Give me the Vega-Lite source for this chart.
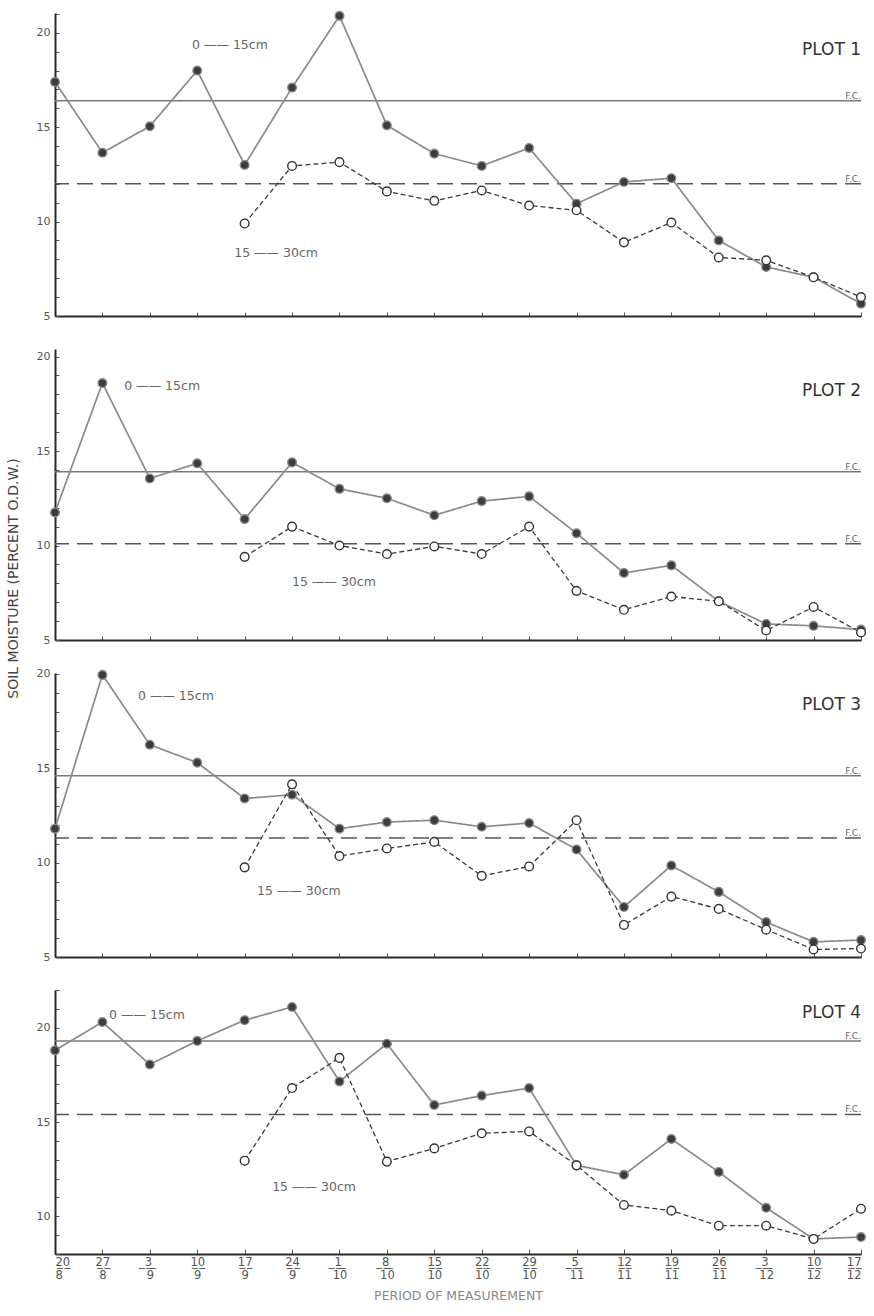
{
 "$schema": "https://vega.github.io/schema/vega-lite/v6.json",
 "background": "white",
 "padding": {"left": 6, "top": 8, "right": 10, "bottom": 4},
 "bounds": "flush",
 "spacing": 33,
 "datasets": {
  "m": [
   {"plot":1,"date":"20/8","i":0,"depth":"0-15cm","v":17.4},
   {"plot":1,"date":"27/8","i":1,"depth":"0-15cm","v":13.65},
   {"plot":1,"date":"3/9","i":2,"depth":"0-15cm","v":15.05},
   {"plot":1,"date":"10/9","i":3,"depth":"0-15cm","v":18.0},
   {"plot":1,"date":"17/9","i":4,"depth":"0-15cm","v":13.0},
   {"plot":1,"date":"24/9","i":5,"depth":"0-15cm","v":17.1},
   {"plot":1,"date":"1/10","i":6,"depth":"0-15cm","v":20.9},
   {"plot":1,"date":"8/10","i":7,"depth":"0-15cm","v":15.1},
   {"plot":1,"date":"15/10","i":8,"depth":"0-15cm","v":13.6},
   {"plot":1,"date":"22/10","i":9,"depth":"0-15cm","v":12.95},
   {"plot":1,"date":"29/10","i":10,"depth":"0-15cm","v":13.9},
   {"plot":1,"date":"5/11","i":11,"depth":"0-15cm","v":10.95},
   {"plot":1,"date":"12/11","i":12,"depth":"0-15cm","v":12.1},
   {"plot":1,"date":"19/11","i":13,"depth":"0-15cm","v":12.3},
   {"plot":1,"date":"26/11","i":14,"depth":"0-15cm","v":9.0},
   {"plot":1,"date":"3/12","i":15,"depth":"0-15cm","v":7.6},
   {"plot":1,"date":"10/12","i":16,"depth":"0-15cm","v":7.05},
   {"plot":1,"date":"17/12","i":17,"depth":"0-15cm","v":5.65},
   {"plot":1,"date":"17/9","i":4,"depth":"15-30cm","v":9.9},
   {"plot":1,"date":"24/9","i":5,"depth":"15-30cm","v":12.95},
   {"plot":1,"date":"1/10","i":6,"depth":"15-30cm","v":13.15},
   {"plot":1,"date":"8/10","i":7,"depth":"15-30cm","v":11.6},
   {"plot":1,"date":"15/10","i":8,"depth":"15-30cm","v":11.1},
   {"plot":1,"date":"22/10","i":9,"depth":"15-30cm","v":11.65},
   {"plot":1,"date":"29/10","i":10,"depth":"15-30cm","v":10.85},
   {"plot":1,"date":"5/11","i":11,"depth":"15-30cm","v":10.6},
   {"plot":1,"date":"12/11","i":12,"depth":"15-30cm","v":8.9},
   {"plot":1,"date":"19/11","i":13,"depth":"15-30cm","v":9.95},
   {"plot":1,"date":"26/11","i":14,"depth":"15-30cm","v":8.1},
   {"plot":1,"date":"3/12","i":15,"depth":"15-30cm","v":7.95},
   {"plot":1,"date":"10/12","i":16,"depth":"15-30cm","v":7.05},
   {"plot":1,"date":"17/12","i":17,"depth":"15-30cm","v":6.0},

   {"plot":2,"date":"20/8","i":0,"depth":"0-15cm","v":11.75},
   {"plot":2,"date":"27/8","i":1,"depth":"0-15cm","v":18.6},
   {"plot":2,"date":"3/9","i":2,"depth":"0-15cm","v":13.55},
   {"plot":2,"date":"10/9","i":3,"depth":"0-15cm","v":14.35},
   {"plot":2,"date":"17/9","i":4,"depth":"0-15cm","v":11.4},
   {"plot":2,"date":"24/9","i":5,"depth":"0-15cm","v":14.4},
   {"plot":2,"date":"1/10","i":6,"depth":"0-15cm","v":13.0},
   {"plot":2,"date":"8/10","i":7,"depth":"0-15cm","v":12.5},
   {"plot":2,"date":"15/10","i":8,"depth":"0-15cm","v":11.6},
   {"plot":2,"date":"22/10","i":9,"depth":"0-15cm","v":12.35},
   {"plot":2,"date":"29/10","i":10,"depth":"0-15cm","v":12.6},
   {"plot":2,"date":"5/11","i":11,"depth":"0-15cm","v":10.65},
   {"plot":2,"date":"12/11","i":12,"depth":"0-15cm","v":8.55},
   {"plot":2,"date":"19/11","i":13,"depth":"0-15cm","v":8.95},
   {"plot":2,"date":"26/11","i":14,"depth":"0-15cm","v":7.05},
   {"plot":2,"date":"3/12","i":15,"depth":"0-15cm","v":5.85},
   {"plot":2,"date":"10/12","i":16,"depth":"0-15cm","v":5.75},
   {"plot":2,"date":"17/12","i":17,"depth":"0-15cm","v":5.55},
   {"plot":2,"date":"17/9","i":4,"depth":"15-30cm","v":9.4},
   {"plot":2,"date":"24/9","i":5,"depth":"15-30cm","v":11.0},
   {"plot":2,"date":"1/10","i":6,"depth":"15-30cm","v":10.0},
   {"plot":2,"date":"8/10","i":7,"depth":"15-30cm","v":9.55},
   {"plot":2,"date":"15/10","i":8,"depth":"15-30cm","v":9.95},
   {"plot":2,"date":"22/10","i":9,"depth":"15-30cm","v":9.55},
   {"plot":2,"date":"29/10","i":10,"depth":"15-30cm","v":11.0},
   {"plot":2,"date":"5/11","i":11,"depth":"15-30cm","v":7.6},
   {"plot":2,"date":"12/11","i":12,"depth":"15-30cm","v":6.6},
   {"plot":2,"date":"19/11","i":13,"depth":"15-30cm","v":7.3},
   {"plot":2,"date":"26/11","i":14,"depth":"15-30cm","v":7.05},
   {"plot":2,"date":"3/12","i":15,"depth":"15-30cm","v":5.5},
   {"plot":2,"date":"10/12","i":16,"depth":"15-30cm","v":6.75},
   {"plot":2,"date":"17/12","i":17,"depth":"15-30cm","v":5.4},

   {"plot":3,"date":"20/8","i":0,"depth":"0-15cm","v":11.8},
   {"plot":3,"date":"27/8","i":1,"depth":"0-15cm","v":19.95},
   {"plot":3,"date":"3/9","i":2,"depth":"0-15cm","v":16.25},
   {"plot":3,"date":"10/9","i":3,"depth":"0-15cm","v":15.3},
   {"plot":3,"date":"17/9","i":4,"depth":"0-15cm","v":13.4},
   {"plot":3,"date":"24/9","i":5,"depth":"0-15cm","v":13.6},
   {"plot":3,"date":"1/10","i":6,"depth":"0-15cm","v":11.8},
   {"plot":3,"date":"8/10","i":7,"depth":"0-15cm","v":12.15},
   {"plot":3,"date":"15/10","i":8,"depth":"0-15cm","v":12.25},
   {"plot":3,"date":"22/10","i":9,"depth":"0-15cm","v":11.9},
   {"plot":3,"date":"29/10","i":10,"depth":"0-15cm","v":12.1},
   {"plot":3,"date":"5/11","i":11,"depth":"0-15cm","v":10.7},
   {"plot":3,"date":"12/11","i":12,"depth":"0-15cm","v":7.65},
   {"plot":3,"date":"19/11","i":13,"depth":"0-15cm","v":9.85},
   {"plot":3,"date":"26/11","i":14,"depth":"0-15cm","v":8.45},
   {"plot":3,"date":"3/12","i":15,"depth":"0-15cm","v":6.85},
   {"plot":3,"date":"10/12","i":16,"depth":"0-15cm","v":5.8},
   {"plot":3,"date":"17/12","i":17,"depth":"0-15cm","v":5.9},
   {"plot":3,"date":"17/9","i":4,"depth":"15-30cm","v":9.75},
   {"plot":3,"date":"24/9","i":5,"depth":"15-30cm","v":14.15},
   {"plot":3,"date":"1/10","i":6,"depth":"15-30cm","v":10.35},
   {"plot":3,"date":"8/10","i":7,"depth":"15-30cm","v":10.75},
   {"plot":3,"date":"15/10","i":8,"depth":"15-30cm","v":11.1},
   {"plot":3,"date":"22/10","i":9,"depth":"15-30cm","v":9.3},
   {"plot":3,"date":"29/10","i":10,"depth":"15-30cm","v":9.8},
   {"plot":3,"date":"5/11","i":11,"depth":"15-30cm","v":12.25},
   {"plot":3,"date":"12/11","i":12,"depth":"15-30cm","v":6.7},
   {"plot":3,"date":"19/11","i":13,"depth":"15-30cm","v":8.2},
   {"plot":3,"date":"26/11","i":14,"depth":"15-30cm","v":7.55},
   {"plot":3,"date":"3/12","i":15,"depth":"15-30cm","v":6.45},
   {"plot":3,"date":"10/12","i":16,"depth":"15-30cm","v":5.4},
   {"plot":3,"date":"17/12","i":17,"depth":"15-30cm","v":5.45},

   {"plot":4,"date":"20/8","i":0,"depth":"0-15cm","v":18.8},
   {"plot":4,"date":"27/8","i":1,"depth":"0-15cm","v":20.3},
   {"plot":4,"date":"3/9","i":2,"depth":"0-15cm","v":18.05},
   {"plot":4,"date":"10/9","i":3,"depth":"0-15cm","v":19.3},
   {"plot":4,"date":"17/9","i":4,"depth":"0-15cm","v":20.4},
   {"plot":4,"date":"24/9","i":5,"depth":"0-15cm","v":21.1},
   {"plot":4,"date":"1/10","i":6,"depth":"0-15cm","v":17.15},
   {"plot":4,"date":"8/10","i":7,"depth":"0-15cm","v":19.15},
   {"plot":4,"date":"15/10","i":8,"depth":"0-15cm","v":15.9},
   {"plot":4,"date":"22/10","i":9,"depth":"0-15cm","v":16.4},
   {"plot":4,"date":"29/10","i":10,"depth":"0-15cm","v":16.8},
   {"plot":4,"date":"5/11","i":11,"depth":"0-15cm","v":12.7},
   {"plot":4,"date":"12/11","i":12,"depth":"0-15cm","v":12.2},
   {"plot":4,"date":"19/11","i":13,"depth":"0-15cm","v":14.1},
   {"plot":4,"date":"26/11","i":14,"depth":"0-15cm","v":12.35},
   {"plot":4,"date":"3/12","i":15,"depth":"0-15cm","v":10.45},
   {"plot":4,"date":"10/12","i":16,"depth":"0-15cm","v":8.8},
   {"plot":4,"date":"17/12","i":17,"depth":"0-15cm","v":8.9},
   {"plot":4,"date":"17/9","i":4,"depth":"15-30cm","v":12.95},
   {"plot":4,"date":"24/9","i":5,"depth":"15-30cm","v":16.8},
   {"plot":4,"date":"1/10","i":6,"depth":"15-30cm","v":18.4},
   {"plot":4,"date":"8/10","i":7,"depth":"15-30cm","v":12.9},
   {"plot":4,"date":"15/10","i":8,"depth":"15-30cm","v":13.6},
   {"plot":4,"date":"22/10","i":9,"depth":"15-30cm","v":14.4},
   {"plot":4,"date":"29/10","i":10,"depth":"15-30cm","v":14.5},
   {"plot":4,"date":"5/11","i":11,"depth":"15-30cm","v":12.7},
   {"plot":4,"date":"12/11","i":12,"depth":"15-30cm","v":10.6},
   {"plot":4,"date":"19/11","i":13,"depth":"15-30cm","v":10.3},
   {"plot":4,"date":"26/11","i":14,"depth":"15-30cm","v":9.5},
   {"plot":4,"date":"3/12","i":15,"depth":"15-30cm","v":9.5},
   {"plot":4,"date":"10/12","i":16,"depth":"15-30cm","v":8.8},
   {"plot":4,"date":"17/12","i":17,"depth":"15-30cm","v":10.4}
  ],
  "fc": [
   {"plot":1,"kind":"solid","v":16.4},
   {"plot":1,"kind":"dashed","v":12.0},
   {"plot":2,"kind":"solid","v":13.9},
   {"plot":2,"kind":"dashed","v":10.1},
   {"plot":3,"kind":"solid","v":14.6},
   {"plot":3,"kind":"dashed","v":11.3},
   {"plot":4,"kind":"solid","v":19.3},
   {"plot":4,"kind":"dashed","v":15.4}
  ],
  "ann": [
   {"plot":1,"kind":"depth","i":2.89,"v":19.35,"label":"0 —— 15cm"},
   {"plot":1,"kind":"depth","i":3.78,"v":8.33,"label":"15 —— 30cm"},
   {"plot":1,"kind":"title","i":17,"v":19.09,"label":"PLOT 1"},
   {"plot":2,"kind":"depth","i":1.46,"v":18.44,"label":"0 —— 15cm"},
   {"plot":2,"kind":"depth","i":5.0,"v":8.07,"label":"15 —— 30cm"},
   {"plot":2,"kind":"title","i":17,"v":18.18,"label":"PLOT 2"},
   {"plot":3,"kind":"depth","i":1.75,"v":18.83,"label":"0 —— 15cm"},
   {"plot":3,"kind":"depth","i":4.26,"v":8.5,"label":"15 —— 30cm"},
   {"plot":3,"kind":"title","i":17,"v":18.35,"label":"PLOT 3"},
   {"plot":4,"kind":"depth","i":1.14,"v":20.67,"label":"0 —— 15cm"},
   {"plot":4,"kind":"depth","i":4.58,"v":11.55,"label":"15 —— 30cm"},
   {"plot":4,"kind":"title","i":17,"v":20.78,"label":"PLOT 4"}
  ]
 },
 "vconcat": [
  {
   "width": 806, "height": 303,
   "encoding": {
    "y": {"field":"v","type":"quantitative","scale":{"domain":[5,21.05],"nice":false,"zero":false},
          "axis":{"title":null,"values":[5,6,7,8,9,10,11,12,13,14,15,16,17,18,19,20,21],"labelExpr":"datum.value % 5 == 0 ? datum.label : ''","tickSize":-4,"labelPadding":9}}
   },
   "layer": [
    {"data":{"name":"fc"},"transform":[{"filter":"datum.plot == 1 && datum.kind == 'solid'"}],"mark":{"type":"rule","color":"#7a7a7a","strokeWidth":1.5}},
    {"data":{"name":"fc"},"transform":[{"filter":"datum.plot == 1 && datum.kind == 'dashed'"}],"mark":{"type":"rule","color":"#555","strokeWidth":1.5,"strokeDash":[16,8]}},
    {"data":{"name":"fc"},"transform":[{"filter":"datum.plot == 1"}],"mark":{"type":"text","align":"right","baseline":"bottom","fontSize":9,"color":"#666"},"encoding":{"x":{"datum":17,"type":"quantitative","scale":{"domain":[0,17],"nice":false,"zero":false}},"text":{"value":"F.C."}}},
    {"data":{"name":"m"},"transform":[{"filter":"datum.plot == 1"}],"mark":{"type":"line"},
     "encoding":{"x":{"field":"i","type":"quantitative","scale":{"domain":[0,17],"nice":false,"zero":false},"axis":{"title":null,"values":[0,1,2,3,4,5,6,7,8,9,10,11,12,13,14,15,16,17],"labels":false,"tickSize":-4}},
      "color":{"field":"depth","type":"nominal","scale":{"domain":["0-15cm","15-30cm"],"range":["#8a8a8a","#3a3a3a"]},"legend":null},
      "strokeDash":{"field":"depth","type":"nominal","scale":{"domain":["0-15cm","15-30cm"],"range":[[1,0],[5,3]]},"legend":null},
      "strokeWidth":{"field":"depth","type":"nominal","scale":{"domain":["0-15cm","15-30cm"],"range":[1.7,1.3]},"legend":null}}},
    {"data":{"name":"m"},"transform":[{"filter":"datum.plot == 1"}],"mark":{"type":"point","shape":"circle","filled":true,"size":75,"opacity":1,"strokeWidth":1.4},
     "encoding":{"x":{"field":"i","type":"quantitative","scale":{"domain":[0,17],"nice":false,"zero":false}},
      "fill":{"field":"depth","type":"nominal","scale":{"domain":["0-15cm","15-30cm"],"range":["#3c3c3c","#ffffff"]},"legend":null},
      "stroke":{"field":"depth","type":"nominal","scale":{"domain":["0-15cm","15-30cm"],"range":["#8a8a8a","#333333"]},"legend":null}}},
    {"data":{"name":"ann"},"transform":[{"filter":"datum.plot == 1 && datum.kind == 'depth'"}],"mark":{"type":"text","align":"left","baseline":"middle","fontSize":12.5,"color":"#666"},"encoding":{"x":{"field":"i","type":"quantitative","scale":{"domain":[0,17],"nice":false,"zero":false}},"text":{"field":"label"}}},
    {"data":{"name":"ann"},"transform":[{"filter":"datum.plot == 1 && datum.kind == 'title'"}],"mark":{"type":"text","align":"right","baseline":"middle","fontSize":17,"color":"#333"},"encoding":{"x":{"field":"i","type":"quantitative","scale":{"domain":[0,17],"nice":false,"zero":false}},"text":{"field":"label"}}}
   ]
  },
  {
   "width": 806, "height": 291,
   "encoding": {
    "y": {"field":"v","type":"quantitative","scale":{"domain":[5,20.4],"nice":false,"zero":false},
          "axis":{"title":"SOIL MOISTURE (PERCENT O.D.W.)","titleX":-35,"titleY":229,"titleFontSize":14,"values":[5,6,7,8,9,10,11,12,13,14,15,16,17,18,19,20],"labelExpr":"datum.value % 5 == 0 ? datum.label : ''","tickSize":-4,"labelPadding":9}}
   },
   "layer": [
    {"data":{"name":"fc"},"transform":[{"filter":"datum.plot == 2 && datum.kind == 'solid'"}],"mark":{"type":"rule","color":"#7a7a7a","strokeWidth":1.5}},
    {"data":{"name":"fc"},"transform":[{"filter":"datum.plot == 2 && datum.kind == 'dashed'"}],"mark":{"type":"rule","color":"#555","strokeWidth":1.5,"strokeDash":[16,8]}},
    {"data":{"name":"fc"},"transform":[{"filter":"datum.plot == 2"}],"mark":{"type":"text","align":"right","baseline":"bottom","fontSize":9,"color":"#666"},"encoding":{"x":{"datum":17,"type":"quantitative","scale":{"domain":[0,17],"nice":false,"zero":false}},"text":{"value":"F.C."}}},
    {"data":{"name":"m"},"transform":[{"filter":"datum.plot == 2"}],"mark":{"type":"line"},
     "encoding":{"x":{"field":"i","type":"quantitative","scale":{"domain":[0,17],"nice":false,"zero":false},"axis":{"title":null,"values":[0,1,2,3,4,5,6,7,8,9,10,11,12,13,14,15,16,17],"labels":false,"tickSize":-4}},
      "color":{"field":"depth","type":"nominal","scale":{"domain":["0-15cm","15-30cm"],"range":["#8a8a8a","#3a3a3a"]},"legend":null},
      "strokeDash":{"field":"depth","type":"nominal","scale":{"domain":["0-15cm","15-30cm"],"range":[[1,0],[5,3]]},"legend":null},
      "strokeWidth":{"field":"depth","type":"nominal","scale":{"domain":["0-15cm","15-30cm"],"range":[1.7,1.3]},"legend":null}}},
    {"data":{"name":"m"},"transform":[{"filter":"datum.plot == 2"}],"mark":{"type":"point","shape":"circle","filled":true,"size":75,"opacity":1,"strokeWidth":1.4},
     "encoding":{"x":{"field":"i","type":"quantitative","scale":{"domain":[0,17],"nice":false,"zero":false}},
      "fill":{"field":"depth","type":"nominal","scale":{"domain":["0-15cm","15-30cm"],"range":["#3c3c3c","#ffffff"]},"legend":null},
      "stroke":{"field":"depth","type":"nominal","scale":{"domain":["0-15cm","15-30cm"],"range":["#8a8a8a","#333333"]},"legend":null}}},
    {"data":{"name":"ann"},"transform":[{"filter":"datum.plot == 2 && datum.kind == 'depth'"}],"mark":{"type":"text","align":"left","baseline":"middle","fontSize":12.5,"color":"#666"},"encoding":{"x":{"field":"i","type":"quantitative","scale":{"domain":[0,17],"nice":false,"zero":false}},"text":{"field":"label"}}},
    {"data":{"name":"ann"},"transform":[{"filter":"datum.plot == 2 && datum.kind == 'title'"}],"mark":{"type":"text","align":"right","baseline":"middle","fontSize":17,"color":"#333"},"encoding":{"x":{"field":"i","type":"quantitative","scale":{"domain":[0,17],"nice":false,"zero":false}},"text":{"field":"label"}}}
   ]
  },
  {
   "width": 806, "height": 284,
   "encoding": {
    "y": {"field":"v","type":"quantitative","scale":{"domain":[5,20.05],"nice":false,"zero":false},
          "axis":{"title":null,"values":[5,6,7,8,9,10,11,12,13,14,15,16,17,18,19,20],"labelExpr":"datum.value % 5 == 0 ? datum.label : ''","tickSize":-4,"labelPadding":9}}
   },
   "layer": [
    {"data":{"name":"fc"},"transform":[{"filter":"datum.plot == 3 && datum.kind == 'solid'"}],"mark":{"type":"rule","color":"#7a7a7a","strokeWidth":1.5}},
    {"data":{"name":"fc"},"transform":[{"filter":"datum.plot == 3 && datum.kind == 'dashed'"}],"mark":{"type":"rule","color":"#555","strokeWidth":1.5,"strokeDash":[16,8]}},
    {"data":{"name":"fc"},"transform":[{"filter":"datum.plot == 3"}],"mark":{"type":"text","align":"right","baseline":"bottom","fontSize":9,"color":"#666"},"encoding":{"x":{"datum":17,"type":"quantitative","scale":{"domain":[0,17],"nice":false,"zero":false}},"text":{"value":"F.C."}}},
    {"data":{"name":"m"},"transform":[{"filter":"datum.plot == 3"}],"mark":{"type":"line"},
     "encoding":{"x":{"field":"i","type":"quantitative","scale":{"domain":[0,17],"nice":false,"zero":false},"axis":{"title":null,"values":[0,1,2,3,4,5,6,7,8,9,10,11,12,13,14,15,16,17],"labels":false,"tickSize":-4}},
      "color":{"field":"depth","type":"nominal","scale":{"domain":["0-15cm","15-30cm"],"range":["#8a8a8a","#3a3a3a"]},"legend":null},
      "strokeDash":{"field":"depth","type":"nominal","scale":{"domain":["0-15cm","15-30cm"],"range":[[1,0],[5,3]]},"legend":null},
      "strokeWidth":{"field":"depth","type":"nominal","scale":{"domain":["0-15cm","15-30cm"],"range":[1.7,1.3]},"legend":null}}},
    {"data":{"name":"m"},"transform":[{"filter":"datum.plot == 3"}],"mark":{"type":"point","shape":"circle","filled":true,"size":75,"opacity":1,"strokeWidth":1.4},
     "encoding":{"x":{"field":"i","type":"quantitative","scale":{"domain":[0,17],"nice":false,"zero":false}},
      "fill":{"field":"depth","type":"nominal","scale":{"domain":["0-15cm","15-30cm"],"range":["#3c3c3c","#ffffff"]},"legend":null},
      "stroke":{"field":"depth","type":"nominal","scale":{"domain":["0-15cm","15-30cm"],"range":["#8a8a8a","#333333"]},"legend":null}}},
    {"data":{"name":"ann"},"transform":[{"filter":"datum.plot == 3 && datum.kind == 'depth'"}],"mark":{"type":"text","align":"left","baseline":"middle","fontSize":12.5,"color":"#666"},"encoding":{"x":{"field":"i","type":"quantitative","scale":{"domain":[0,17],"nice":false,"zero":false}},"text":{"field":"label"}}},
    {"data":{"name":"ann"},"transform":[{"filter":"datum.plot == 3 && datum.kind == 'title'"}],"mark":{"type":"text","align":"right","baseline":"middle","fontSize":17,"color":"#333"},"encoding":{"x":{"field":"i","type":"quantitative","scale":{"domain":[0,17],"nice":false,"zero":false}},"text":{"field":"label"}}}
   ]
  },
  {
   "width": 806, "height": 264,
   "encoding": {
    "y": {"field":"v","type":"quantitative","scale":{"domain":[8,22],"nice":false,"zero":false},
          "axis":{"title":null,"values":[8,9,10,11,12,13,14,15,16,17,18,19,20,21,22],"labelExpr":"datum.value % 5 == 0 ? datum.label : ''","tickSize":-4,"labelPadding":9}}
   },
   "layer": [
    {"data":{"name":"fc"},"transform":[{"filter":"datum.plot == 4 && datum.kind == 'solid'"}],"mark":{"type":"rule","color":"#7a7a7a","strokeWidth":1.5}},
    {"data":{"name":"fc"},"transform":[{"filter":"datum.plot == 4 && datum.kind == 'dashed'"}],"mark":{"type":"rule","color":"#555","strokeWidth":1.5,"strokeDash":[16,8]}},
    {"data":{"name":"fc"},"transform":[{"filter":"datum.plot == 4"}],"mark":{"type":"text","align":"right","baseline":"bottom","fontSize":9,"color":"#666"},"encoding":{"x":{"datum":17,"type":"quantitative","scale":{"domain":[0,17],"nice":false,"zero":false}},"text":{"value":"F.C."}}},
    {"data":{"name":"m"},"transform":[{"filter":"datum.plot == 4"}],"mark":{"type":"line"},
     "encoding":{"x":{"field":"i","type":"quantitative","scale":{"domain":[0,17],"nice":false,"zero":false},
       "axis":{"title":"PERIOD OF MEASUREMENT","titleFontSize":12.5,"titleColor":"#888","titlePadding":9,"values":[0,1,2,3,4,5,6,7,8,9,10,11,12,13,14,15,16,17],"tickSize":-5,"labelPadding":7,"labelBaseline":"top","labelFontSize":11.5,"labelLineHeight":13,
        "labelExpr":"[['2\u03320\u0332','2\u03327\u0332',' \u03323\u0332 \u0332','1\u03320\u0332','1\u03327\u0332','2\u03324\u0332',' \u03321\u0332 \u0332',' \u03328\u0332 \u0332','1\u03325\u0332','2\u03322\u0332','2\u03329\u0332',' \u03325\u0332 \u0332','1\u03322\u0332','1\u03329\u0332','2\u03326\u0332',' \u03323\u0332 \u0332','1\u03320\u0332','1\u03327\u0332'][datum.value], ['8','8','9','9','9','9','10','10','10','10','10','11','11','11','11','12','12','12'][datum.value]]"}},
      "color":{"field":"depth","type":"nominal","scale":{"domain":["0-15cm","15-30cm"],"range":["#8a8a8a","#3a3a3a"]},"legend":null},
      "strokeDash":{"field":"depth","type":"nominal","scale":{"domain":["0-15cm","15-30cm"],"range":[[1,0],[5,3]]},"legend":null},
      "strokeWidth":{"field":"depth","type":"nominal","scale":{"domain":["0-15cm","15-30cm"],"range":[1.7,1.3]},"legend":null}}},
    {"data":{"name":"m"},"transform":[{"filter":"datum.plot == 4"}],"mark":{"type":"point","shape":"circle","filled":true,"size":75,"opacity":1,"strokeWidth":1.4},
     "encoding":{"x":{"field":"i","type":"quantitative","scale":{"domain":[0,17],"nice":false,"zero":false}},
      "fill":{"field":"depth","type":"nominal","scale":{"domain":["0-15cm","15-30cm"],"range":["#3c3c3c","#ffffff"]},"legend":null},
      "stroke":{"field":"depth","type":"nominal","scale":{"domain":["0-15cm","15-30cm"],"range":["#8a8a8a","#333333"]},"legend":null}}},
    {"data":{"name":"ann"},"transform":[{"filter":"datum.plot == 4 && datum.kind == 'depth'"}],"mark":{"type":"text","align":"left","baseline":"middle","fontSize":12.5,"color":"#666"},"encoding":{"x":{"field":"i","type":"quantitative","scale":{"domain":[0,17],"nice":false,"zero":false}},"text":{"field":"label"}}},
    {"data":{"name":"ann"},"transform":[{"filter":"datum.plot == 4 && datum.kind == 'title'"}],"mark":{"type":"text","align":"right","baseline":"middle","fontSize":17,"color":"#333"},"encoding":{"x":{"field":"i","type":"quantitative","scale":{"domain":[0,17],"nice":false,"zero":false}},"text":{"field":"label"}}}
   ]
  }
 ],
 "config": {
  "font": "DejaVu Sans",
  "view": {"stroke": null},
  "axis": {"grid": false, "domainColor": "#2a2a2a", "domainWidth": 2, "tickColor": "#555", "tickWidth": 1, "labelFont": "DejaVu Sans", "labelColor": "#555", "labelFontSize": 11, "titleFont": "DejaVu Sans", "titleFontWeight": "normal", "titleColor": "#444"}
 }
}
